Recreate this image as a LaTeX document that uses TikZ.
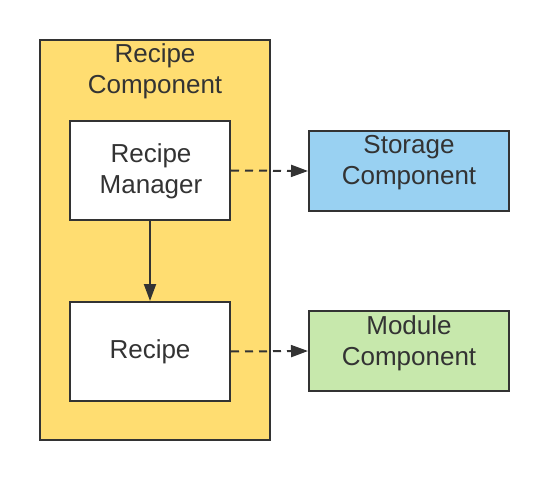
\documentclass[tikz,border=0pt]{standalone}
\usepackage{fontspec}
\setmainfont{Liberation Sans}
\usetikzlibrary{arrows.meta}
\definecolor{lucidyellow}{HTML}{FFDD71}
\definecolor{lucidblue}{HTML}{99D1F2}
\definecolor{lucidgreen}{HTML}{C7E8AC}
\definecolor{lucidline}{HTML}{333333}
\tikzset{
  box/.style={draw=lucidline, line width=2pt, rectangle, align=center, inner sep=0pt},
  txt/.style={text=lucidline, font=\fontsize{26}{31}\selectfont, align=center},
  arr/.style={draw=lucidline, line width=2pt, -{Triangle[length=17pt,width=12pt]}},
  dasharr/.style={arr, dash pattern=on 8pt off 6pt}
}
\begin{document}
\begin{tikzpicture}[x=1pt,y=-1pt]
\useasboundingbox (0,0) rectangle (549,481);
\node[box, fill=lucidyellow, minimum width=230pt, minimum height=400pt] (comp) at (155,240) {};
\node[txt] (comptitle) at (155,71) {Recipe\\Component};
\node[box, fill=white, minimum width=160pt, minimum height=99pt] (manager) at (150,170.5) {};
\node[txt] at (151,171) {Recipe\\Manager};
\node[box, fill=white, minimum width=160pt, minimum height=99pt] (recipe) at (150,351.5) {};
\node[txt] at (150,351.5) {Recipe};
\node[box, fill=lucidblue, minimum width=200pt, minimum height=80pt] (storage) at (409,171) {};
\node[txt] at (409,163) {Storage\\Component};
\node[box, fill=lucidgreen, minimum width=200pt, minimum height=80pt] (module) at (409,351) {};
\node[txt] at (409,343) {Module\\Component};

\draw[arr] (manager.south) -- (recipe.north);
\draw[dasharr] (manager.east) -- (storage.west);
\draw[dasharr] (recipe.east) -- (module.west);
\end{tikzpicture}
\end{document}
